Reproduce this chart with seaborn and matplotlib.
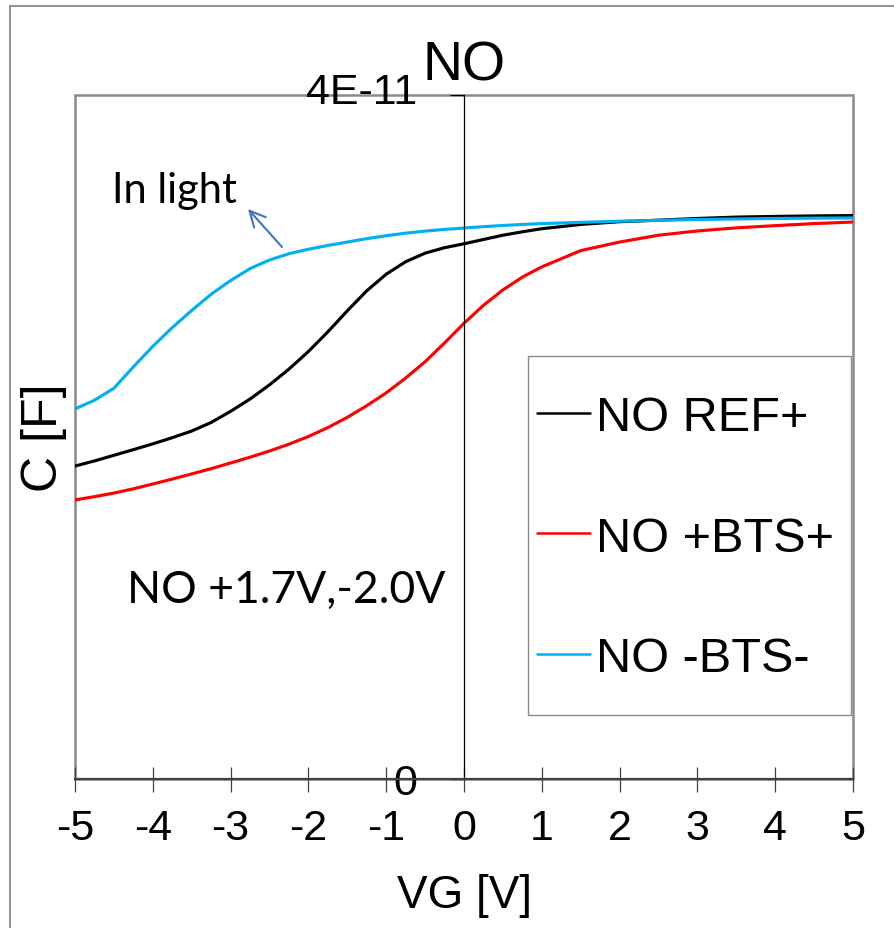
import numpy as np
import pandas as pd
import matplotlib
matplotlib.use("Agg")
import matplotlib.pyplot as plt
from matplotlib.patches import Rectangle
from matplotlib.ticker import MultipleLocator
from matplotlib.transforms import ScaledTranslation
import seaborn as sns

# ---- data ----
vg = [-5, -4.75, -4.5, -4.25, -4, -3.75, -3.5, -3.25, -3, -2.75, -2.5, -2.25,
      -2, -1.75, -1.5, -1.25, -1, -0.75, -0.5, -0.25, 0, 0.25, 0.5, 0.75, 1,
      1.5, 2, 2.5, 3, 3.5, 4, 4.5, 5]
c_ref = [1.83, 1.86, 1.893, 1.926, 1.96, 1.996, 2.035, 2.085, 2.15, 2.222, 2.305, 2.397,
         2.50, 2.615, 2.738, 2.855, 2.952, 3.025, 3.075, 3.107, 3.13, 3.155, 3.18, 3.20, 3.218,
         3.243, 3.259, 3.268, 3.278, 3.286, 3.29, 3.293, 3.295]
c_pbts = [1.632, 1.651, 1.672, 1.697, 1.725, 1.754, 1.784, 1.815, 1.848, 1.882, 1.918, 1.958,
          2.003, 2.055, 2.115, 2.183, 2.258, 2.345, 2.44, 2.55, 2.665, 2.77, 2.86, 2.935, 2.995,
          3.09, 3.14, 3.18, 3.205, 3.223, 3.236, 3.248, 3.257]
c_nbts = [2.164, 2.215, 2.285, 2.41, 2.53, 2.64, 2.74, 2.835, 2.915, 2.985, 3.035, 3.072,
          3.098, 3.12, 3.14, 3.16, 3.177, 3.192, 3.204, 3.214, 3.222, 3.23, 3.237, 3.243, 3.248,
          3.255, 3.262, 3.267, 3.272, 3.275, 3.278, 3.28, 3.281]
scale = 1e-11
series = ["NO REF+", "NO +BTS+", "NO -BTS-"]
colors = ["#000000", "#FF0000", "#00B0F0"]
x_ticks = [-5, -4, -3, -2, -1, 0, 1, 2, 3, 4, 5]
y_ticks = [0, 4e-11]
y_tick_labels = ["0", "4E-11"]

df = pd.concat([
    pd.DataFrame({"VG": vg, "C": np.array(v) * scale, "series": s})
    for s, v in zip(series, [c_ref, c_pbts, c_nbts])
])

sns.set_style("white")
plt.rcParams["font.family"] = ["Liberation Sans", "DejaVu Sans"]
plt.rcParams["text.color"] = "black"
plt.rcParams["axes.labelcolor"] = "black"
plt.rcParams["xtick.color"] = "black"
plt.rcParams["ytick.color"] = "black"
plt.rcParams["xtick.labelcolor"] = "black"
plt.rcParams["ytick.labelcolor"] = "black"

W, H = 894, 929
fig = plt.figure(figsize=(W / 100, H / 100), dpi=100)
L, R, T, B = 75, 853, 96, 780
ax = fig.add_axes([L / W, 1 - B / H, (R - L) / W, (B - T) / H])

sns.lineplot(data=df, x="VG", y="C", hue="series", hue_order=series,
             palette=dict(zip(series, colors)), linewidth=2.25, ax=ax,
             sort=False)

ax.set_xlim(-5, 5)
ax.set_ylim(0, 4e-11)

# plot-area border (gray)
ax.add_patch(Rectangle((0, 0), 1, 1, transform=ax.transAxes, fill=False,
                       edgecolor="#8a8a8a", linewidth=1.8, clip_on=False, zorder=0.5))
# figure border
fig.add_artist(Rectangle((10 / W, -0.05), 1.2, 1 - 7 / H + 0.05,
                         transform=fig.transFigure, fill=False,
                         edgecolor="#8a8a8a", linewidth=1.3))

for s in ["top", "right"]:
    ax.spines[s].set_visible(False)
ax.spines["left"].set_position(("data", 0))
ax.spines["left"].set_color("black")
ax.spines["left"].set_linewidth(0.9)
ax.spines["bottom"].set_color("#404040")
ax.spines["bottom"].set_linewidth(1.6)

ax.set_xticks(x_ticks)
ax.set_xticklabels([str(t) for t in x_ticks])
ax.xaxis.set_minor_locator(MultipleLocator(0.5))
ax.tick_params(axis="x", which="major", direction="inout", length=18,
               width=0.9, color="#404040", labelsize=31, pad=12,
               labelcolor="black")
ax.tick_params(axis="x", which="minor", direction="in", length=8,
               width=0.9, color="#404040")
ax.set_yticks(y_ticks)
ax.set_yticklabels(y_tick_labels)
ax.tick_params(axis="y", which="major", direction="out", length=10,
               width=0.9, color="black", labelsize=31, pad=24,
               labelcolor="black")
ax.tick_params(bottom=True, left=True)
# lift the top y label slightly, as in the reference
top_lbl = ax.get_yticklabels()[1]
top_lbl.set_transform(top_lbl.get_transform() +
                      ScaledTranslation(0, 0.07, fig.dpi_scale_trans))

ax.set_xlabel("VG [V]", fontsize=33, color="black")
ax.xaxis.set_label_coords(0.5, -0.137)
ax.set_ylabel("C [F]", fontsize=36, color="black")
ax.yaxis.set_label_coords(-0.01, 0.5)
ax.set_title("NO", fontsize=40, pad=11, color="black")

# legend with separate frame
handles, labels = ax.get_legend_handles_labels()
ax.get_legend().remove()
leg = ax.legend(handles, labels, loc="center", frameon=False,
                bbox_to_anchor=(685.5 / W, 1 - 539 / H),
                bbox_transform=fig.transFigure, fontsize=35,
                handlelength=1.09, handletextpad=0.12, labelspacing=1.55,
                borderpad=0, labelcolor="black")
for ln in leg.get_lines():
    ln.set_linewidth(1.8)
fig.add_artist(Rectangle((528 / W, 1 - 716 / H), (851 - 528) / W, (716 - 357) / H,
                         transform=fig.transFigure, fill=False,
                         edgecolor="#8a8a8a", linewidth=1.0))

# annotations
ax.text((112 - L) / (R - L), (B - 203) / (B - T), "In light",
        transform=ax.transAxes, fontsize=30, family=["Lato", "DejaVu Sans"],
        va="baseline", ha="left", color="black")
ax.annotate("", xy=((248 - L) / (R - L), (B - 210) / (B - T)),
            xytext=((282 - L) / (R - L), (B - 248) / (B - T)),
            xycoords="axes fraction", textcoords="axes fraction",
            arrowprops=dict(arrowstyle="->", color="#4472C4", lw=1.5,
                            mutation_scale=28, shrinkA=0, shrinkB=0))
ax.text((127 - L) / (R - L), (B - 603) / (B - T), "NO +1.7V,-2.0V",
        transform=ax.transAxes, fontsize=32, family=["Lato", "DejaVu Sans"],
        va="baseline", ha="left", color="black")

fig.savefig("out.png", dpi=100)
